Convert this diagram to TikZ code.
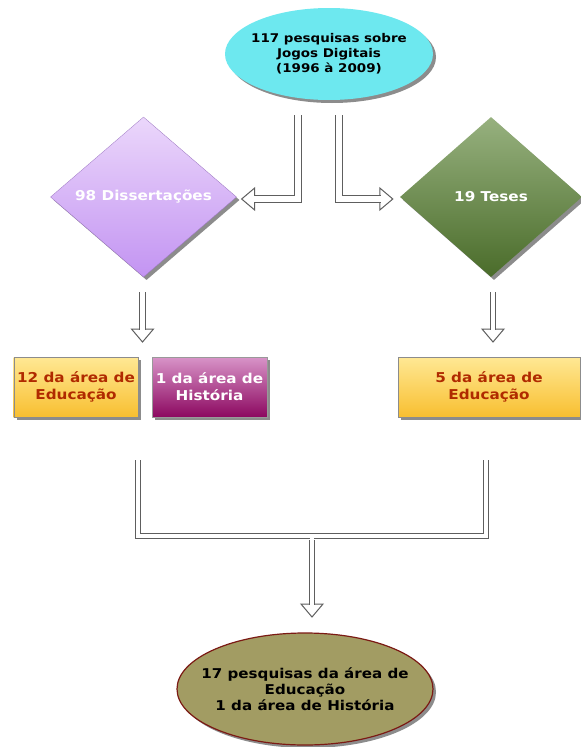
\documentclass[tikz,border=0pt]{standalone}
\usepackage{fontspec}
\setmainfont{DejaVu Sans}[FakeStretch=1.12]
\usetikzlibrary{
    shapes,
    shadows,
    calc,
    positioning
}
\definecolor{ciano}{HTML}{6DE8EF}
\definecolor{lilasA}{HTML}{EBD7FB}
\definecolor{lilasB}{HTML}{C394F2}
\definecolor{verdeA}{HTML}{97B17F}
\definecolor{verdeB}{HTML}{4A6C2A}
\definecolor{amareloA}{HTML}{FFE894}
\definecolor{amareloB}{HTML}{F8BF30}
\definecolor{roxoA}{HTML}{D894C8}
\definecolor{roxoB}{HTML}{8C0860}
\definecolor{oliva}{HTML}{A29C63}
\definecolor{vinho}{HTML}{7B1A14}
\definecolor{tijolo}{HTML}{B02A00}
\definecolor{linha}{HTML}{5E5E5E}
\tikzset{
    dbl/.style={draw=linha, line width=1pt, double=white, double distance=4.5pt},
    hd/.style={draw=linha, line width=1pt, fill=white, line join=miter},
    sombra/.style={drop shadow={shadow xshift=3pt, shadow yshift=-3pt, fill=black!45, opacity=1}},
    losango/.style={diamond, aspect=1.15, inner sep=0pt, minimum width=186pt,
        minimum height=160pt, text=white, font=\bfseries\fontsize{13.6}{16}\selectfont, sombra},
    caixa/.style={rectangle, minimum height=60pt, align=center, sombra,
        font=\bfseries\fontsize{13.6}{17}\selectfont}
}
\newcommand{\hdarrow}[2]{\draw[hd, shift={#1}, rotate=#2] (0,0) -- (-13,11) -- (-13,-11) -- cycle;}

\begin{document}
\begin{tikzpicture}[x=1pt, y=-1pt]
    \useasboundingbox[fill=white] (0,0) rectangle (581,747);

    % caixas
    \node[ellipse, fill=ciano, minimum width=208pt, minimum height=92pt, inner xsep=-6pt,
        inner ysep=0pt, align=center, font=\bfseries\fontsize{12}{15}\selectfont, sombra]
        (top) at (329,54) {117 pesquisas sobre\\Jogos Digitais\\(1996 à 2009)};
    \node[losango, top color=lilasA, bottom color=lilasB, draw=lilasB!80!black, line width=0.3pt]
        (diss) at (143.5,197) {98 Dissertações};
    \node[losango, top color=verdeA, bottom color=verdeB, minimum width=182pt]
        (teses) at (491,197) {19 Teses};
    \node[caixa, top color=amareloA, bottom color=amareloB, draw=black!45, minimum width=122pt,
        text=tijolo] (edu1) at (76,387) {12 da área de\\Educação};
    \node[caixa, top color=roxoA, bottom color=roxoB, draw=black!40, minimum width=115pt,
        text=white] (hist) at (209.5,387) {1 da área de\\História};
    \node[caixa, top color=amareloA, bottom color=amareloB, draw=black!45, minimum width=182pt,
        text=tijolo] (edu2) at (489,387) {5 da área de\\Educação};
    \node[ellipse, fill=oliva, draw=vinho, line width=1.2pt, minimum width=256pt,
        minimum height=112pt, inner xsep=-14pt, inner ysep=0pt, align=center,
        font=\bfseries\fontsize{13.5}{16}\selectfont, sombra] (fim) at (305,689)
        {17 pesquisas da área de\\Educação\\1 da área de História};

    % pontos livres das setas
    \coordinate (ta) at (298,115);
    \coordinate (tb) at (339,115);
    \coordinate (da) at (142.5,292);
    \coordinate (db) at (493,292);
    \coordinate (ma) at (138,460);
    \coordinate (mb) at (486,460);
    \coordinate (mc) at (312,536);

    % setas de cima
    \hdarrow{($(diss.east)+(5,2)$)}{180}
    \draw[dbl, double distance=6.5pt] (ta) |- ($(diss.east)+(17,2)$);
    \hdarrow{($(teses.west)+(-7,2)$)}{0}
    \draw[dbl, double distance=6.5pt] (tb) |- ($(teses.west)+(-19,2)$);

    % setas do meio
    \hdarrow{(da |- 0,342)}{-90}
    \draw[dbl] (da) -- (da |- 0,330);
    \hdarrow{(db |- 0,342)}{-90}
    \draw[dbl] (db) -- (db |- 0,330);

    % juncao
    \draw[dbl] (ma) |- (mc) -| (mb);
    \hdarrow{(mc |- 0,617)}{-90}
    \draw[dbl] ($(mc)+(0,3.5)$) -- (mc |- 0,605);
    \fill[white] ($(mc)+(-2.25,1)$) rectangle ($(mc)+(2.25,4.5)$);
\end{tikzpicture}
\end{document}
